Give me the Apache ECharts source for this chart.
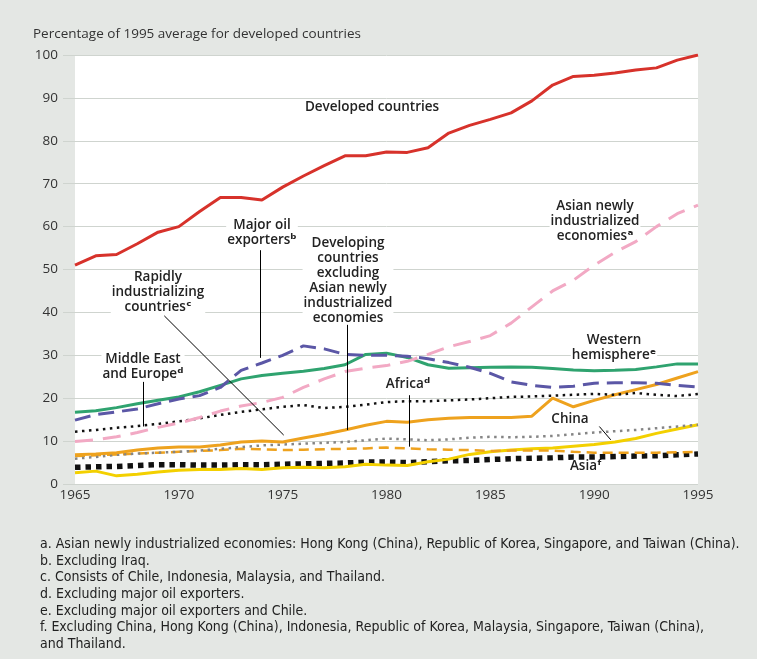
<!DOCTYPE html>
<html>
<head>
<meta charset="utf-8">
<script src="https://cdn.jsdelivr.net/npm/echarts@6/dist/echarts.min.js"></script>
<style>
  html, body { margin: 0; padding: 0; background: #e4e7e4; }
  #chart { width: 757px; height: 659px; }
</style>
</head>
<body>
<div id="chart"></div>
<script>
const years = []
for (let y = 1965; y <= 1995; y++) years.push(y)

// values, % of 1995 developed-country average
const developed = [51, 53.2, 53.5, 56, 58.7, 60, 63.5, 66.8, 66.8, 66.2, 69.2, 71.8, 74.2, 76.5, 76.5, 77.4, 77.3, 78.4, 81.8, 83.6, 85, 86.5, 89.3, 93, 95, 95.3, 95.8, 96.5, 97, 98.8, 100]
const asianNIE = [9.9, 10.3, 11, 12, 13.2, 14.2, 15.5, 17, 18.2, 19, 20.2, 22.5, 24.5, 26.2, 27, 27.6, 28.6, 30.2, 32, 33.2, 34.6, 37.5, 41.3, 45, 47.5, 51, 54, 56.5, 60, 63, 65]
const oilExporters = [14.9, 16.2, 16.8, 17.5, 18.7, 19.8, 20.6, 22.5, 26.5, 28.2, 30, 32.2, 31.5, 30.2, 30, 30, 29.8, 29.2, 28.3, 27.2, 25.8, 23.8, 23, 22.5, 22.8, 23.5, 23.6, 23.6, 23.5, 23, 22.6]
const westernHemisphere = [16.7, 17.1, 17.8, 18.7, 19.5, 20.3, 21.5, 23, 24.5, 25.3, 25.8, 26.3, 26.9, 27.8, 30.2, 30.5, 29.5, 27.8, 27, 27.1, 27.2, 27.3, 27.2, 26.9, 26.6, 26.4, 26.5, 26.7, 27.3, 28, 28]
const middleEastEurope = [12.2, 12.6, 13.1, 13.5, 14, 14.6, 15.3, 16.1, 16.8, 17.4, 18, 18.4, 17.7, 18, 18.5, 19.1, 19.3, 19.3, 19.5, 19.7, 20, 20.3, 20.4, 20.6, 20.8, 21, 20.8, 21.2, 20.8, 20.5, 21]
const rapidlyIndustrializing = [6.8, 7, 7.3, 7.9, 8.4, 8.6, 8.6, 9.1, 9.8, 10, 9.8, 10.7, 11.6, 12.6, 13.7, 14.6, 14.4, 15, 15.3, 15.5, 15.5, 15.5, 15.8, 20, 18, 19.5, 20.8, 22, 23.2, 24.7, 26.2]
const developingExclNIE = [5.9, 6.3, 6.8, 7.1, 7.3, 7.5, 7.8, 8.2, 8.6, 9, 9.2, 9.4, 9.6, 9.8, 10.2, 10.6, 10.4, 10.2, 10.4, 10.8, 11, 10.9, 11, 11.2, 11.6, 12, 12.3, 12.6, 13, 13.4, 13.8]
const africa = [6.5, 6.7, 6.9, 7.1, 7.3, 7.5, 7.7, 7.9, 8.2, 8.1, 7.9, 8, 8.1, 8.2, 8.3, 8.5, 8.3, 8.1, 8, 7.9, 7.7, 7.8, 7.8, 7.8, 7.5, 7.3, 7.3, 7.3, 7.3, 7.4, 7.5]
const asia = [3.9, 4, 4.1, 4.3, 4.5, 4.5, 4.4, 4.4, 4.5, 4.5, 4.6, 4.7, 4.8, 4.9, 5.1, 5.1, 5, 5.2, 5.4, 5.5, 5.7, 5.9, 6, 6.1, 6.3, 6.3, 6.4, 6.5, 6.6, 6.8, 7]
const china = [2.6, 3, 1.9, 2.3, 2.8, 3.2, 3.4, 3.4, 3.6, 3.4, 3.8, 3.9, 3.8, 4, 4.6, 4.4, 4.3, 5.2, 5.8, 6.9, 7.5, 7.9, 8.2, 8.4, 8.8, 9.2, 9.8, 10.6, 11.8, 12.8, 13.8]

// leader lines from labels to curves: [year1, value1, year2, value2]
const leaders = [
  [1973.9, 54.5, 1973.9, 29.4],
  [1978.1, 37.1, 1978.1, 12.6],
  [1969.3, 39.2, 1975.05, 11.4],
  [1968.3, 23.8, 1968.3, 13.4],
  [1981.1, 20.7, 1981.1, 8.7],
  [1990.25, 13.4, 1990.8, 10.3]
]

const footnotes = [
  'a. Asian newly industrialized economies: Hong Kong (China), Republic of Korea, Singapore, and Taiwan (China).',
  'b. Excluding Iraq.',
  'c. Consists of Chile, Indonesia, Malaysia, and Thailand.',
  'd. Excluding major oil exporters.',
  'e. Excluding major oil exporters and Chile.',
  'f. Excluding China, Hong Kong (China), Indonesia, Republic of Korea, Malaysia, Singapore, Taiwan (China),',
  'and Thailand.'
]

function pairs(vals) {
  return vals.map((v, i) => [years[i], v])
}

function line(name, vals, color, width, type) {
  return {
    name: name,
    type: 'line',
    data: pairs(vals),
    showSymbol: false,
    symbol: 'none',
    lineStyle: { color: color, width: width, type: type, cap: 'butt' }
  }
}

const labelFont = '600 13.5px "Open Sans", "DejaVu Sans", sans-serif'
// labels sit above the gridlines but under the curves
function label(text, x, y) {
  return {
    type: 'text',
    x: x,
    y: y,
    z: 1,
    silent: true,
    style: {
      text: text,
      font: labelFont,
      fill: '#222',
      align: 'center',
      verticalAlign: 'top',
      lineHeight: 15,
      backgroundColor: '#fff',
      padding: [0, 1]
    }
  }
}

const chart = echarts.init(document.getElementById('chart'))

const series = [
  line('Asia', asia, '#111', 5.5, [5.5, 5]),
  line('China', china, '#f3d000', 3, 'solid'),
  line('Africa', africa, '#eea21e', 2.5, [10, 6]),
  line('Developing countries excluding Asian newly industrialized economies', developingExclNIE, '#858585', 2.5, [2.5, 4.5]),
  line('Rapidly industrializing countries', rapidlyIndustrializing, '#eea21e', 3, 'solid'),
  line('Middle East and Europe', middleEastEurope, '#111', 2.5, [2.5, 4.5]),
  line('Western hemisphere', westernHemisphere, '#2fa36f', 3, 'solid'),
  line('Major oil exporters', oilExporters, '#5b57a6', 3, [16, 8]),
  line('Asian newly industrialized economies', asianNIE, '#f2a9c4', 3, [18, 10]),
  line('Developed countries', developed, '#d7322b', 3, 'solid')
]

series[0].markLine = {
  silent: true,
  symbol: 'none',
  animation: false,
  label: { show: false },
  lineStyle: { color: '#000', width: 1, type: 'solid' },
  data: leaders.map(l => [{ coord: [l[0], l[1]] }, { coord: [l[2], l[3]] }])
}

chart.setOption({
  backgroundColor: '#e4e7e4',
  animation: false,
  grid: {
    left: 75,
    right: 59,
    top: 55,
    bottom: 175,
    show: true,
    backgroundColor: '#fff',
    borderWidth: 0
  },
  xAxis: {
    type: 'value',
    min: 1965,
    max: 1995,
    interval: 5,
    axisLine: { show: false },
    axisTick: { show: false },
    splitLine: { show: false },
    axisLabel: {
      color: '#333',
      fontSize: 13.5,
      fontFamily: '"Open Sans", sans-serif',
      margin: 4,
      formatter: v => String(v)
    }
  },
  yAxis: {
    type: 'value',
    min: 0,
    max: 100,
    interval: 10,
    axisLine: { show: false },
    axisTick: { show: true, length: 12, lineStyle: { color: '#cfd4cf' } },
    splitLine: { lineStyle: { color: '#cfd4cf', width: 1 } },
    axisLabel: {
      color: '#333',
      fontSize: 13.5,
      fontFamily: '"Open Sans", sans-serif',
      margin: 17
    }
  },
  graphic: [
    {
      type: 'text', x: 33, y: 27, silent: true,
      style: { text: 'Percentage of 1995 average for developed countries', font: '13.5px "Open Sans", sans-serif', fill: '#333' }
    },
    label('Developed countries', 372, 100),
    label('Asian newly\nindustrialized\neconomiesᵃ', 595, 199),
    label('Major oil\nexportersᵇ', 262, 218),
    label('Developing\ncountries\nexcluding\nAsian newly\nindustrialized\neconomies', 348, 236),
    label('Rapidly\nindustrializing\ncountriesᶜ', 158, 270),
    label('Middle East\nand Europeᵈ', 143, 352),
    label('Africaᵈ', 408, 377),
    label('Western\nhemisphereᵉ', 614, 333),
    label('China', 570, 412),
    label('Asiaᶠ', 586, 459),
    {
      type: 'text', x: 40, y: 536, silent: true,
      style: {
        text: footnotes.join('\n'),
        font: '14px "Liberation Sans Narrow", "DejaVu Sans Condensed", sans-serif',
        fill: '#222',
        lineHeight: 16.7
      }
    }
  ],
  series: series
})
</script>
</body>
</html>
